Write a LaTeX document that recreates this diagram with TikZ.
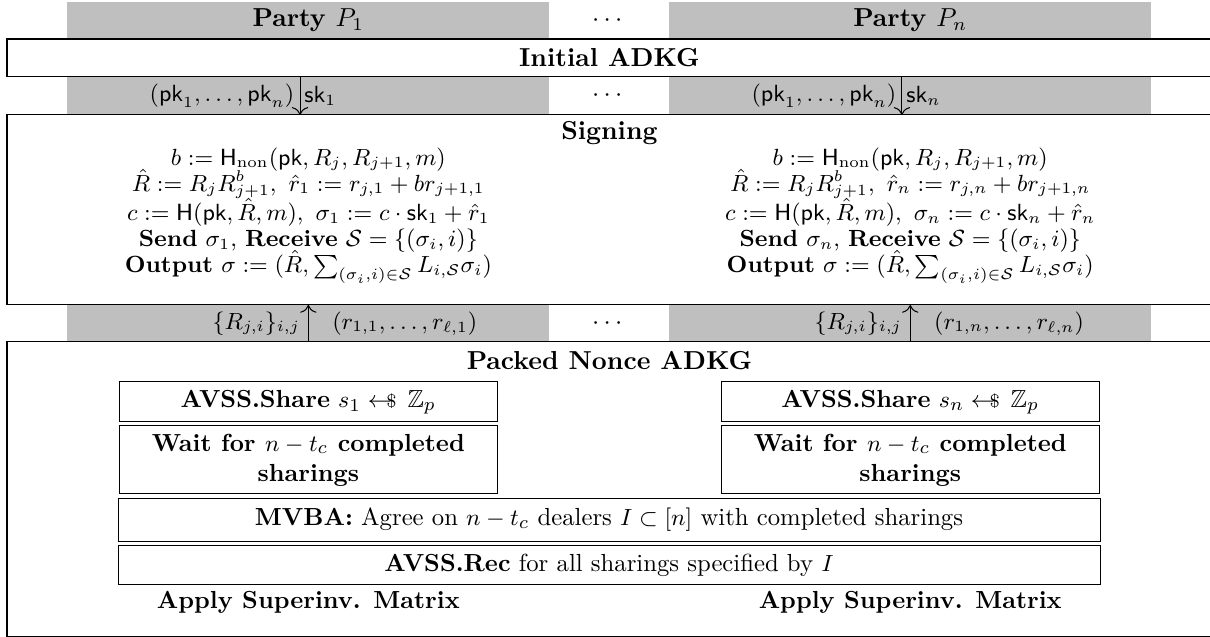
\documentclass[tikz,border=0pt]{standalone}
\usepackage{amsmath,amssymb}
\usetikzlibrary{arrows.meta}
\newcommand{\sampleArrow}{\mathrel{\leftarrow\!\!\!{\scriptstyle\$}}\,}
\newcommand{\tasksize}{\fontsize{9.5}{11.5}\selectfont}

\begin{document}
\begin{tikzpicture}[x=1pt,y=1pt,
  band/.style={fill=gray!50,minimum width=185.4pt,minimum height=130.7pt,inner sep=0,outer sep=0},
  phasebox/.style={draw,fill=white,minimum width=465pt,inner sep=0,outer sep=0},
  taskbox/.style={draw,fill=white,inner sep=0,outer sep=0,align=center,font=\tasksize},
  msg/.style={-{To[length=3pt]}}]
\useasboundingbox (0,0) rectangle (465.4,-245);
\foreach \k in {0,1}
  \node[band] (col\k) at (118.6+231.5*\k,-66.15) {};
\node[phasebox,minimum height=14.6pt] (init) at (235.2,-22.3) {};
\node[phasebox,minimum height=73.1pt] (sign) at (235.2,-80.75) {};
\node[phasebox,minimum height=113.5pt] (packed) at (235.2,-188.25) {};
\node[font=\bfseries] (initT) at (234.4,-22.3) {Initial ADKG};
\node[font=\bfseries] (signT) at (234.4,-51) {Signing};
\node[font=\bfseries] (packedT) at (234.4,-138.5) {Packed Nonce ADKG};
\foreach \y [count=\j] in {-7.9,-36.9,-124.4}
  \node (dots\j) at (234.4,\y) {$\cdots$};
\foreach \k/\p in {0/1,1/n} {
  \begin{scope}[shift={(231.5*\k,0)}]
    \node[font=\bfseries] (party\k) at (118.6,-7.9) {Party $P_{\p}$};
    \coordinate (dn\k) at (115.4,0);
    \coordinate (up\k) at (118.6,0);
    \draw[msg] (init.south -| dn\k) -- (sign.north -| dn\k);
    \draw[msg] (packed.north -| up\k) -- (sign.south -| up\k);
    \node[anchor=east,inner sep=0,xshift=-2pt,font=\small] (pk\k) at (dn\k |- dots2) {$(\mathsf{pk}_1,\dots,\mathsf{pk}_n)$};
    \node[anchor=west,inner sep=0,xshift=1.5pt,font=\small] (sk\k) at (dn\k |- dots2) {$\mathsf{sk}_{\p}$};
    \node[anchor=east,inner sep=0,xshift=-3pt,font=\small] (nonces\k) at (up\k |- dots3) {$\{R_{j,i}\}_{i,j}$};
    \node[anchor=west,inner sep=0,xshift=9pt,font=\small] (shares\k) at (up\k |- dots3) {$(r_{1,\p},\dots,r_{\ell,\p})$};
    \node[align=center,font=\small] (rule\k) at (118.6,-83) {$b := \mathsf{H}_{\mathrm{non}}(\mathsf{pk}, R_j, R_{j+1}, m)$\\[-1pt]
      $\hat{R} := R_j R_{j+1}^b,\ \hat{r}_{\p} := r_{j,\p} + b r_{j+1,\p}$\\[-1pt]
      $c := \mathsf{H}(\mathsf{pk}, \hat{R}, m),\ \sigma_{\p} := c \cdot \mathsf{sk}_{\p} + \hat{r}_{\p}$\\[-1pt]
      \textbf{Send} $\sigma_{\p}$, \textbf{Receive} $\mathcal{S} = \{(\sigma_i, i)\}$\\[-1pt]
      \textbf{Output} $\sigma := (\hat{R}, \sum_{(\sigma_i,i)\in\mathcal{S}} L_{i,\mathcal{S}}\sigma_i)$};
    \node[taskbox,minimum width=145.5pt,minimum height=15.4pt] (share\k) at (118.6,-154.6) {\textbf{AVSS.Share} $s_{\p} \sampleArrow \mathbb{Z}_p$};
    \node[taskbox,minimum width=145.5pt,minimum height=26.2pt,font=\tasksize\bfseries] (wait\k) at (118.6,-176.9) {Wait for $n-t_c$ completed\\ sharings};
    \node[font=\tasksize\bfseries] (apply\k) at (118.6,-231.5) {Apply Superinv. Matrix};
  \end{scope}
}
\node[taskbox,minimum width=377.7pt,minimum height=16.2pt] (mvba) at (234.25,-200) {\textbf{MVBA:} Agree on $n-t_c$ dealers $I \subset [n]$ with completed sharings};
\node[taskbox,minimum width=377.7pt,minimum height=15pt] (rec) at (234.25,-217.5) {\textbf{AVSS.Rec} for all sharings specified by $I$};
\end{tikzpicture}
\end{document}
